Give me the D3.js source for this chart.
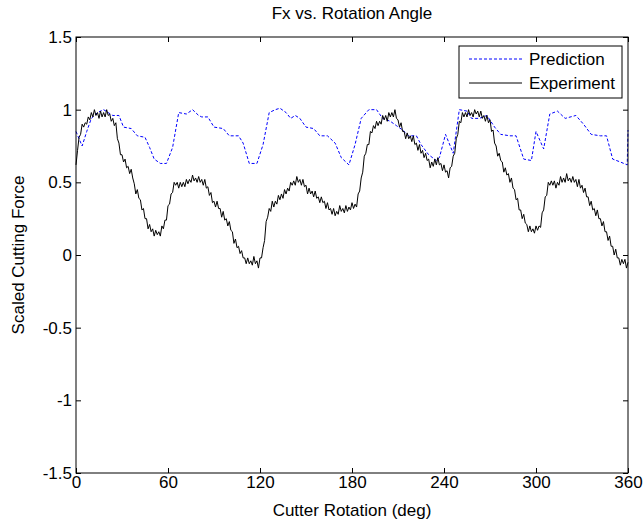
<!DOCTYPE html>
<html>
<head>
<meta charset="utf-8">
<script src="https://cdn.jsdelivr.net/npm/d3@7"></script>
<style>
  body { margin: 0; background: #fff; }
  text { font-family: "Liberation Sans", Arial, Helvetica, sans-serif; }
</style>
</head>
<body>
<svg id="vis"></svg>
<script>
const WIDTH = 644;
const HEIGHT = 520;
const margin = {top: 37, right: 16, bottom: 47, left: 76};
const FONT = "17px";

const X_TICKS = [0, 60, 120, 180, 240, 300, 360];
const Y_TICKS = [-1.5, -1, -0.5, 0, 0.5, 1, 1.5];

// prediction: [angle, force]
const predAngle = [0, 2, 4, 7, 10, 14, 18, 21, 24, 28, 31, 36, 40, 45, 48, 51, 55, 59, 63, 67,
    72, 76, 80, 82, 86, 90, 96, 100, 106, 109, 113, 118, 122, 126, 130, 133, 137, 140, 143, 146,
    150, 155, 159, 164, 169, 173, 178, 182, 186, 191, 196, 200, 205, 209, 213, 217, 222, 225, 230, 235,
    237, 241, 246, 250, 255, 258, 263, 268, 273, 277, 283, 287, 292, 297, 300, 305, 309, 314, 319, 326,
    331, 336, 342, 346, 350, 355, 359.5, 360];
const predForce = [0.85, 0.80, 0.75, 0.85, 0.94, 0.98, 1.00, 0.98, 0.96, 0.96, 0.88, 0.87, 0.82, 0.81, 0.74, 0.66, 0.63, 0.63, 0.74, 0.98,
    0.97, 1.00, 0.96, 0.95, 0.95, 0.88, 0.87, 0.82, 0.82, 0.77, 0.63, 0.63, 0.76, 0.98, 1.00, 1.01, 0.98, 0.94, 0.96, 0.94,
    0.88, 0.87, 0.82, 0.82, 0.77, 0.67, 0.62, 0.76, 0.94, 1.00, 1.00, 0.94, 0.92, 0.89, 0.86, 0.82, 0.82, 0.76, 0.69, 0.65,
    0.67, 0.83, 0.70, 1.00, 0.99, 0.94, 0.94, 0.96, 0.88, 0.83, 0.82, 0.82, 0.66, 0.65, 0.85, 0.73, 0.97, 0.99, 0.94, 0.96,
    0.90, 0.83, 0.82, 0.82, 0.66, 0.64, 0.62, 0.86];

// experiment: one sample per degree, 0..360
const expForce = [
    0.62, 0.72, 0.81, 0.83, 0.90, 0.88, 0.91, 0.90, 0.95, 0.93,
    0.98, 0.95, 1.00, 0.96, 0.98, 0.94, 0.99, 0.95, 0.98, 0.95,
    1.00, 0.96, 0.97, 0.92, 0.94, 0.89, 0.91, 0.80, 0.77, 0.69,
    0.69, 0.64, 0.66, 0.60, 0.61, 0.56, 0.59, 0.53, 0.49, 0.42,
    0.45, 0.39, 0.38, 0.31, 0.32, 0.25, 0.25, 0.18, 0.21, 0.16,
    0.18, 0.13, 0.17, 0.14, 0.16, 0.13, 0.20, 0.18, 0.24, 0.24,
    0.34, 0.35, 0.42, 0.43, 0.50, 0.48, 0.50, 0.46, 0.50, 0.47,
    0.50, 0.47, 0.52, 0.49, 0.52, 0.50, 0.55, 0.51, 0.53, 0.50,
    0.54, 0.50, 0.52, 0.48, 0.52, 0.46, 0.47, 0.41, 0.43, 0.36,
    0.37, 0.33, 0.37, 0.32, 0.32, 0.26, 0.30, 0.24, 0.25, 0.20,
    0.23, 0.17, 0.16, 0.08, 0.11, 0.05, 0.06, 0.01, 0.03, -0.02,
    -0.02, -0.06, -0.02, -0.06, -0.04, -0.07, -0.01, -0.06, -0.04, -0.09,
    -0.02, -0.02, 0.05, 0.10, 0.23, 0.26, 0.32, 0.30, 0.37, 0.33,
    0.37, 0.35, 0.41, 0.38, 0.42, 0.39, 0.45, 0.42, 0.46, 0.44,
    0.50, 0.48, 0.51, 0.48, 0.54, 0.50, 0.52, 0.48, 0.52, 0.47,
    0.48, 0.42, 0.46, 0.42, 0.44, 0.40, 0.44, 0.39, 0.40, 0.36,
    0.40, 0.36, 0.37, 0.32, 0.36, 0.31, 0.32, 0.28, 0.32, 0.27,
    0.30, 0.28, 0.34, 0.30, 0.32, 0.29, 0.34, 0.30, 0.33, 0.31,
    0.36, 0.32, 0.35, 0.33, 0.42, 0.44, 0.53, 0.57, 0.68, 0.70,
    0.76, 0.76, 0.85, 0.84, 0.89, 0.87, 0.92, 0.89, 0.92, 0.90,
    0.96, 0.93, 0.96, 0.92, 0.98, 0.95, 0.98, 0.95, 1.00, 0.94,
    0.93, 0.88, 0.91, 0.85, 0.85, 0.80, 0.84, 0.80, 0.82, 0.78,
    0.82, 0.76, 0.77, 0.72, 0.76, 0.70, 0.72, 0.67, 0.70, 0.65,
    0.66, 0.60, 0.64, 0.61, 0.66, 0.62, 0.67, 0.62, 0.63, 0.58,
    0.62, 0.57, 0.58, 0.53, 0.60, 0.61, 0.68, 0.70, 0.80, 0.83,
    0.92, 0.91, 0.98, 0.95, 0.98, 0.95, 1.00, 0.96, 0.98, 0.95,
    1.00, 0.97, 0.99, 0.95, 0.99, 0.94, 0.96, 0.92, 0.96, 0.91,
    0.93, 0.85, 0.86, 0.77, 0.75, 0.68, 0.70, 0.65, 0.64, 0.57,
    0.60, 0.55, 0.56, 0.50, 0.53, 0.46, 0.45, 0.38, 0.39, 0.31,
    0.31, 0.25, 0.28, 0.22, 0.21, 0.16, 0.20, 0.16, 0.18, 0.15,
    0.20, 0.17, 0.20, 0.19, 0.29, 0.31, 0.40, 0.41, 0.50, 0.48,
    0.51, 0.48, 0.51, 0.46, 0.50, 0.48, 0.54, 0.50, 0.53, 0.50,
    0.56, 0.51, 0.53, 0.50, 0.54, 0.50, 0.52, 0.47, 0.52, 0.46,
    0.48, 0.43, 0.46, 0.40, 0.40, 0.34, 0.37, 0.31, 0.32, 0.27,
    0.31, 0.25, 0.25, 0.20, 0.23, 0.16, 0.16, 0.10, 0.13, 0.06,
    0.06, 0.00, 0.04, -0.02, -0.02, -0.07, -0.03, -0.06, -0.03, -0.09,
    -0.05
];

const svg = d3.select("#vis")
    .attr("width", WIDTH)
    .attr("height", HEIGHT);

const w = WIDTH - margin.left - margin.right;
const h = HEIGHT - margin.top - margin.bottom;

const g = svg.append("g")
    .attr("transform", "translate(" + margin.left + "," + margin.top + ")");

const x = d3.scaleLinear().domain([0, 360]).range([0, w]);
const y = d3.scaleLinear().domain([-1.5, 1.5]).range([h, 0]);

const fmt = d => String(d);

function styleAxis(sel) {
    sel.select(".domain").remove();
    sel.selectAll("line").attr("stroke", "#000");
    sel.selectAll("text").attr("fill", "#000").style("font-size", FONT);
}

// ticks point inward, like the matlab box
g.append("g")
    .attr("transform", "translate(0," + h + ")")
    .call(d3.axisBottom(x).tickValues(X_TICKS).tickFormat(fmt).tickSizeInner(-5).tickSizeOuter(0).tickPadding(3))
    .call(styleAxis);
g.append("g")
    .call(d3.axisTop(x).tickValues(X_TICKS).tickFormat("").tickSizeInner(-5).tickSizeOuter(0))
    .call(styleAxis);
g.append("g")
    .call(d3.axisLeft(y).tickValues(Y_TICKS).tickFormat(fmt).tickSizeInner(-5).tickSizeOuter(0).tickPadding(4))
    .call(styleAxis);
g.append("g")
    .attr("transform", "translate(" + w + ",0)")
    .call(d3.axisRight(y).tickValues(Y_TICKS).tickFormat("").tickSizeInner(-5).tickSizeOuter(0))
    .call(styleAxis);

const predLine = d3.line()
    .x((d, i) => x(predAngle[i]))
    .y(d => y(d));
const expLine = d3.line()
    .x((d, i) => x(i))
    .y(d => y(d));

g.append("path")
    .datum(predForce)
    .attr("fill", "none")
    .attr("stroke", "#0000ff")
    .attr("stroke-width", 1)
    .attr("stroke-dasharray", "3,2")
    .attr("d", predLine);

g.append("path")
    .datum(expForce)
    .attr("fill", "none")
    .attr("stroke", "#000")
    .attr("stroke-width", 1)
    .attr("d", expLine);

// box
g.append("rect")
    .attr("width", w)
    .attr("height", h)
    .attr("fill", "none")
    .attr("stroke", "#000")
    .attr("stroke-width", 1);

// legend
const legend = svg.append("g").attr("transform", "translate(459,46)");
legend.append("rect")
    .attr("width", 163)
    .attr("height", 52)
    .attr("fill", "#fff")
    .attr("stroke", "#000");
const items = [
    {label: "Prediction", color: "#0000ff", dash: "3,2"},
    {label: "Experiment", color: "#000", dash: null}
];
items.forEach((it, i) => {
    const yy = 13 + i * 24;
    legend.append("line")
        .attr("x1", 10).attr("x2", 63)
        .attr("y1", yy).attr("y2", yy)
        .attr("stroke", it.color)
        .attr("stroke-dasharray", it.dash);
    legend.append("text")
        .attr("x", 70).attr("y", yy)
        .attr("dy", "0.35em")
        .style("font-size", FONT)
        .text(it.label);
});

// titles
svg.append("text")
    .attr("x", margin.left + w / 2)
    .attr("y", 19)
    .attr("text-anchor", "middle")
    .style("font-size", FONT)
    .text("Fx vs. Rotation Angle");

svg.append("text")
    .attr("x", margin.left + w / 2)
    .attr("y", 516)
    .attr("text-anchor", "middle")
    .style("font-size", FONT)
    .text("Cutter Rotation (deg)");

svg.append("text")
    .attr("transform", "translate(24," + (margin.top + h / 2) + ") rotate(-90)")
    .attr("text-anchor", "middle")
    .style("font-size", FONT)
    .text("Scaled Cutting Force");
</script>
</body>
</html>
